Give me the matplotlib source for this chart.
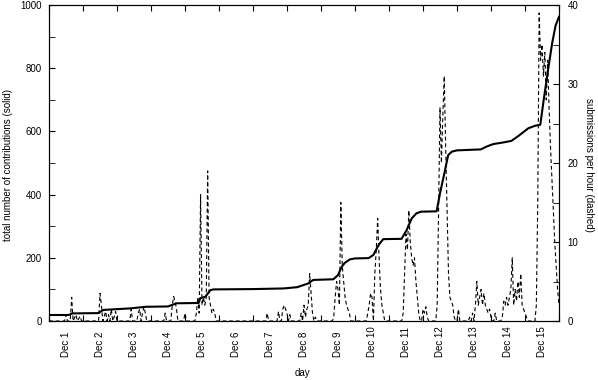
import matplotlib
matplotlib.use("Agg")
import matplotlib.pyplot as plt
from matplotlib.ticker import MultipleLocator
import numpy as np

plt.rcParams['font.family'] = ['Liberation Sans', 'DejaVu Sans']
plt.rcParams['font.size'] = 7

# cumulative contributions (solid), x in days since Dec 1 00:00
total_day = [0, 0.58, 0.68, 1.45, 1.6, 2.4, 2.85, 3.5, 3.75, 4.4, 4.45, 4.6, 4.75, 4.85,
             6.0, 6.9, 7.3, 7.63, 7.77, 8.36, 8.5, 8.6, 8.7, 8.85, 9.0, 9.4, 9.54, 9.69,
             9.83, 10.37, 10.52, 10.67, 10.81, 10.95, 11.4, 11.5, 11.65, 11.74, 11.85,
             12.0, 12.7, 12.87, 13.07, 13.36, 13.6, 13.8, 14.1, 14.3, 14.45, 14.55,
             14.7, 14.8, 14.9, 15.0]
total_count = [19, 19, 24, 25, 35, 40, 45, 46, 56, 57, 72, 77, 98, 100,
               101, 103, 107, 119, 130, 132, 145, 170, 184, 195, 198, 199, 209, 240,
               259, 260, 288, 325, 341, 346, 347, 404, 478, 525, 536,
               540, 543, 552, 560, 565, 570, 585, 610, 618, 621, 700,
               810, 880, 935, 963]

# submissions per hour (dashed), x in hours since Dec 1 00:00
rate_hour = [0, 11, 12, 13, 15, 16, 17, 19, 20, 22, 23,
             35, 36, 37, 38, 40, 41, 42, 43, 44, 45, 46, 47, 48,
             57, 58, 59, 62, 63, 64, 65, 66, 67, 68, 69,
             81, 82, 83, 86, 87, 88, 89, 90, 91, 95, 96, 97,
             103, 104, 105, 106, 107, 108, 109, 110, 111, 112, 113, 114, 115, 116, 117, 118,
             153, 154, 155, 161, 162, 163, 164, 165, 166, 167, 168, 169, 170, 171,
             177, 178, 179, 180, 181, 182, 183, 184, 185, 186, 187, 188, 189,
             200, 201, 202, 203, 204, 205, 206, 207, 208, 209, 210, 211, 212, 213,
             224, 225, 226, 227, 228, 229, 230, 231, 232, 233, 234, 235, 236, 237,
             249, 250, 251, 252, 253, 254, 255, 256, 257, 258, 259, 260, 261, 262, 263,
             264, 265, 266, 267, 268,
             273, 274, 275, 276, 277, 278, 279, 280, 281, 282, 283, 284, 285, 286, 287,
             288, 289, 290,
             296, 297, 298, 299, 300, 301, 302, 303, 304, 305, 306, 307, 308, 309, 310,
             311, 312, 313, 314, 315, 316,
             319, 320, 321, 322, 323, 324, 325, 326, 327, 328, 329, 330, 331, 332, 333,
             334, 335, 336, 337, 338,
             343, 344, 345, 346, 347, 348, 349, 350, 351, 352, 353, 354, 355, 356, 357,
             358, 359, 360]
rate_value = [0, 0, 0.8, 0, 0, 3, 0, 0.8, 0, 0.6, 0,
              0, 3.5, 2, 0, 1.2, 0, 0.8, 0, 1.5, 0, 0.5, 1.2, 0,
              0, 1.5, 0, 0, 1, 1.5, 0, 1, 1.8, 1, 0,
              0, 1, 0, 0, 2, 3.1, 2.5, 1.5, 0, 0, 1, 0,
              0, 1, 3, 1, 16, 2, 3, 2, 3, 19, 3, 2, 1, 1.5, 1, 0,
              0, 1, 0, 0, 1.2, 0, 0, 1.5, 2, 1.5, 1, 0, 0.8, 0,
              0, 1, 0, 2, 0.5, 1.5, 2, 6, 3.5, 1, 0, 0.5, 0,
              0, 0.5, 3, 5, 4, 2, 15, 7, 5, 3, 2, 1.5, 1, 0,
              0, 1, 2, 3.5, 3, 0, 6, 9, 13, 8, 4, 2, 1, 0,
              0, 1, 6, 11, 9, 14, 10, 8, 7, 8, 5, 3, 1, 0, 0,
              1.5, 1, 1.8, 0.5, 0,
              0, 2, 14, 27, 20, 26, 31, 22, 14, 6, 3, 2.5, 2, 0.5, 0,
              0, 1.5, 0,
              0, 0.5, 0, 1, 0, 2, 5, 2, 3, 4, 2, 3.5, 2, 1.5, 1,
              1.5, 0.5, 0, 0, 1, 0,
              0, 0.5, 2.5, 2, 3, 2, 3, 4, 8, 2, 4, 2.5, 5, 3, 6,
              2, 1.5, 1, 0.5, 0,
              0, 2, 15, 39, 33, 35, 31, 34, 28, 33, 27, 22, 18, 14, 10,
              7, 4, 2]

day_labels = ["Dec %d" % d for d in range(1, 16)]

fig = plt.figure(figsize=(5.98, 3.8), dpi=100)
ax = fig.add_axes([49 / 598, 1 - 321 / 380, 510 / 598, 316 / 380])
ax2 = ax.twinx()

ax.plot(total_day, total_count, color='black', lw=1.5, zorder=3)
ax2.plot(np.array(rate_hour) / 24.0, rate_value, color='black', lw=0.8,
         linestyle=(0, (3.5, 2.5)))

ax.set_xlim(0, 15)
ax.set_ylim(0, 1000)
ax2.set_ylim(0, 40)

# day boundaries get tick marks, labels sit at noon
ax.set_xticks(np.arange(0, 16))
ax.set_xticklabels([])
ax.set_xticks(np.arange(15) + 0.5, minor=True)
ax.set_xticklabels(day_labels, minor=True, rotation=90)
ax.tick_params(axis='x', which='major', direction='in', length=4, top=True)
ax.tick_params(axis='x', which='minor', length=0, pad=26)
for lab in ax.get_xticklabels(minor=True):
    lab.set_verticalalignment('bottom')

ax.yaxis.set_major_locator(MultipleLocator(200))
ax.yaxis.set_minor_locator(MultipleLocator(100))
ax.tick_params(axis='y', which='both', direction='in', length=4, pad=5)

ax2.yaxis.set_major_locator(MultipleLocator(10))
ax2.yaxis.set_minor_locator(MultipleLocator(5))
ax2.tick_params(axis='y', which='both', direction='in', length=4, pad=6)

for a in (ax, ax2):
    for s in a.spines.values():
        s.set_linewidth(0.8)

fig.text(8 / 598, 1 - 165 / 380, "total number of contributions (solid)",
         rotation=90, ha='center', va='center')
fig.text(589 / 598, 1 - 165 / 380, "submissions per hour (dashed)",
         rotation=-90, ha='center', va='center')
fig.text(302 / 598, 1 - 373 / 380, "day", ha='center', va='center')

fig.savefig("out.png", dpi=100)
